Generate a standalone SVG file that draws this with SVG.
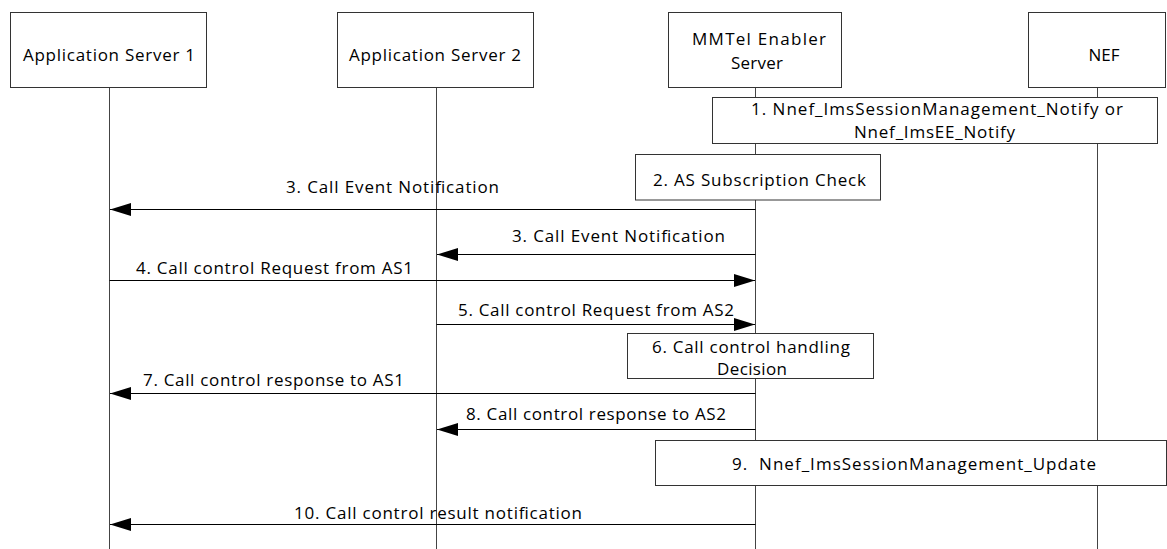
<svg xmlns="http://www.w3.org/2000/svg" width="1167" height="549" viewBox="0 0 1167 549">
<style>
.box{fill:#fff;stroke:#333;stroke-width:1}
.life{stroke:#444;stroke-width:1;fill:none}
.msg{stroke:#000;stroke-width:1;fill:none}
text{font-family:"Open Sans","Liberation Sans",sans-serif;font-size:17px;fill:#000;white-space:pre}
.c{text-anchor:middle}
</style>
<defs>
<marker id="ah" markerUnits="userSpaceOnUse" markerWidth="22" markerHeight="14" refX="21" refY="6.5" orient="auto">
<path d="M0,0 L21,6.5 L0,13 Z" fill="#000"/>
</marker>
</defs>
<g id="lifelines">
<line class="life" x1="109.5" y1="87" x2="109.5" y2="549"/>
<line class="life" x1="436.5" y1="87" x2="436.5" y2="549"/>
<line class="life" x1="755.5" y1="87" x2="755.5" y2="549"/>
<line class="life" x1="1097.5" y1="87" x2="1097.5" y2="549"/>
</g>
<g id="as1">
<rect class="box" x="10.5" y="12.5" width="196" height="75"/>
<text x="23" y="61" textLength="172" lengthAdjust="spacing">Application Server 1</text>
</g>
<g id="as2">
<rect class="box" x="337.5" y="12.5" width="196" height="75"/>
<text x="349" y="61" textLength="172" lengthAdjust="spacing">Application Server 2</text>
</g>
<g id="mmtel">
<rect class="box" x="668.5" y="12.5" width="173" height="75"/>
<text x="692" y="45" textLength="134" lengthAdjust="spacing">MMTel Enabler</text>
<text x="731" y="69" textLength="52" lengthAdjust="spacing">Server</text>
</g>
<g id="nef">
<rect class="box" x="1028.5" y="12.5" width="137" height="75"/>
<text class="c" x="1104" y="61">NEF</text>
</g>
<g id="step1">
<rect class="box" x="712.5" y="97.5" width="445" height="46"/>
<text x="751" y="115" textLength="372" lengthAdjust="spacing">1. Nnef_ImsSessionManagement_Notify or</text>
<text x="854" y="138" textLength="161" lengthAdjust="spacing">Nnef_ImsEE_Notify</text>
</g>
<g id="step2">
<rect class="box" x="635.5" y="154.5" width="245" height="45.5"/>
<text x="653" y="186" textLength="213" lengthAdjust="spacing">2. AS Subscription Check</text>
</g>
<g id="step6">
<rect class="box" x="627.5" y="333.5" width="246" height="45"/>
<text x="652" y="353" textLength="198" lengthAdjust="spacing">6. Call control handling</text>
<text x="717" y="375" textLength="70" lengthAdjust="spacing">Decision</text>
</g>
<g id="step9">
<rect class="box" x="655.5" y="440.5" width="511" height="45"/>
<text x="732" y="470" textLength="364" lengthAdjust="spacing">9.  Nnef_ImsSessionManagement_Update</text>
</g>
<g id="connectors">
<line class="msg" x1="755.5" y1="209.5" x2="110" y2="209.5" marker-end="url(#ah)"/>
<line class="msg" x1="755.5" y1="254.5" x2="437" y2="254.5" marker-end="url(#ah)"/>
<line class="msg" x1="109.5" y1="280.5" x2="755" y2="280.5" marker-end="url(#ah)"/>
<line class="msg" x1="436.5" y1="324.5" x2="755" y2="324.5" marker-end="url(#ah)"/>
<line class="msg" x1="755.5" y1="393.5" x2="110" y2="393.5" marker-end="url(#ah)"/>
<line class="msg" x1="755.5" y1="429.5" x2="437" y2="429.5" marker-end="url(#ah)"/>
<line class="msg" x1="755.5" y1="524.5" x2="110" y2="524.5" marker-end="url(#ah)"/>
<text x="286" y="193" textLength="213" lengthAdjust="spacing">3. Call Event Notification</text>
<text x="512" y="242" textLength="213" lengthAdjust="spacing">3. Call Event Notification</text>
<text x="136" y="274" textLength="277" lengthAdjust="spacing">4. Call control Request from AS1</text>
<text x="458" y="316" textLength="276" lengthAdjust="spacing">5. Call control Request from AS2</text>
<text x="143" y="386" textLength="261" lengthAdjust="spacing">7. Call control response to AS1</text>
<text x="466" y="420" textLength="260" lengthAdjust="spacing">8. Call control response to AS2</text>
<text x="294" y="519" textLength="288" lengthAdjust="spacing">10. Call control result notification</text>
</g>
</svg>
